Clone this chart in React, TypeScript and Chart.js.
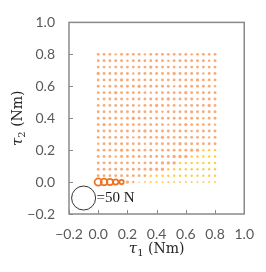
import React, { useEffect, useRef } from "react";
import { Chart, registerables } from "chart.js";
Chart.register(...registerables);

// τ1 grid values (Nm)
const tau1 = [0, 0.04, 0.08, 0.12, 0.16, 0.2, 0.24, 0.28, 0.32, 0.36, 0.4, 0.44, 0.48, 0.52, 0.56, 0.6, 0.64, 0.68, 0.72, 0.76, 0.8];
// τ2 grid values (Nm), top row first
const tau2Rows = [0.8, 0.76, 0.72, 0.68, 0.64, 0.6, 0.56, 0.52, 0.48, 0.44, 0.4, 0.36, 0.32, 0.28, 0.24, 0.2, 0.16, 0.12, 0.08, 0.04, 0];
// force magnitude (N) at each grid point, rows follow tau2Rows
const forceRows = [
  [6, 6, 6, 5, 6, 6, 6, 6, 5, 6, 6, 6, 6, 6, 6, 6, 5, 6, 6, 6, 6],
  [6, 6, 6, 6, 6, 5, 6, 6, 6, 6, 6, 6, 5, 6, 6, 6, 6, 6, 6, 5, 6],
  [6, 6, 5, 6, 6, 6, 6, 6, 6, 7, 6, 6, 6, 6, 5, 6, 6, 6, 6, 6, 6],
  [7, 6, 6, 6, 6, 6, 5, 6, 6, 6, 6, 6, 6, 7, 6, 6, 6, 6, 5, 6, 6],
  [6, 6, 6, 6, 7, 6, 6, 6, 6, 6, 5, 6, 6, 6, 6, 6, 6, 7, 6, 6, 6],
  [6, 5, 6, 6, 6, 6, 6, 7, 6, 6, 6, 6, 6, 5, 6, 6, 6, 6, 6, 6, 5],
  [6, 6, 6, 7, 6, 6, 6, 6, 6, 5, 6, 6, 6, 6, 6, 7, 6, 6, 6, 6, 6],
  [5, 6, 6, 6, 6, 5, 6, 6, 6, 6, 6, 6, 7, 6, 6, 6, 6, 5, 6, 6, 6],
  [6, 6, 6, 6, 6, 6, 6, 5, 6, 6, 7, 6, 6, 6, 5, 6, 6, 6, 6, 7, 6],
  [6, 6, 5, 6, 6, 6, 6, 6, 6, 6, 6, 5, 6, 6, 6, 6, 7, 6, 6, 6, 6],
  [6, 6, 6, 6, 5, 6, 7, 6, 6, 5, 6, 6, 6, 6, 6, 6, 6, 6, 5, 6, 6],
  [6, 7, 6, 6, 6, 6, 6, 6, 6, 6, 6, 6, 5, 6, 6, 7, 6, 6, 6, 6, 5],
  [6, 6, 6, 5, 6, 6, 6, 6, 7, 6, 6, 6, 6, 6, 6, 6, 5, 6, 6, 6, 6],
  [6, 6, 6, 6, 6, 6, 5, 6, 6, 6, 6, 7, 6, 6, 6, 6, 6, 6, 6, 5, 6],
  [5, 6, 6, 6, 6, 6, 6, 6, 5, 6, 6, 6, 6, 6, 7, 6, 6, 6, 6, 6, 6],
  [6, 6, 6, 6, 7, 6, 6, 6, 6, 6, 5, 6, 6, 6, 6, 6, 7, 7, 5, 5, 5],
  [6, 6, 6, 5, 6, 6, 6, 6, 6, 6, 6, 6, 6, 7, 7, 7, 5, 5, 5, 5, 5],
  [6, 6, 6, 6, 6, 6, 6, 5, 6, 6, 6, 7, 7, 7, 5, 5, 5, 5, 5, 5, 5],
  [6, 6, 6, 6, 6, 6, 6, 6, 6, 7, 7, 7, 5, 5, 5, 5, 5, 5, 5, 5, 5],
  [6, 6, 6, 6, 6, 6, 6, 6, 6, 5, 5, 5, 5, 5, 5, 5, 5, 5, 5, 5, 5],
  [15, 14, 13, 11, 9, 7, 5, 3, 4, 4, 4, 4, 4, 4, 4, 4, 4, 4, 4, 4, 4],
];
// first τ1 index of the second (yellow) group in each row
const yellowFrom = [21, 21, 21, 21, 21, 21, 21, 21, 21, 21, 21, 21, 21, 21, 21, 18, 16, 14, 12, 9, 8];
// reference bubble
const legendForce = 50;
const legendTau1 = -0.1;
const legendTau2 = -0.1;
const legendLabel = "=50 N";
const axisMin = -0.2;
const axisMax = 1.0;
const axisStep = 0.2;

const PX_PER_N = 12 / 50;
const RING_MIN_FORCE = 9;

function buildData() {
  const orange: any[] = [];
  const yellow: any[] = [];
  const rings: any[] = [];
  tau2Rows.forEach((t2, i) => {
    forceRows[i].forEach((f, j) => {
      const p = { x: tau1[j], y: t2, r: f * PX_PER_N };
      if (j >= yellowFrom[i]) yellow.push(p);
      else if (f >= RING_MIN_FORCE) rings.push(p);
      else orange.push(p);
    });
  });
  return { orange, yellow, rings };
}

const fmt = (v: number) => {
  const s = Math.abs(v).toFixed(1);
  return v < -1e-9 ? "\u2212" + s : s;
};

const decorPlugin = {
  id: "decor",
  afterDatasetsDraw(chart: any) {
    const { ctx, chartArea: a, scales } = chart;
    const xs = scales.x;
    const ys = scales.y;
    ctx.save();
    ctx.strokeStyle = "#8a8a8a";
    ctx.lineWidth = 1.5;
    ctx.strokeRect(a.left, a.top, a.right - a.left, a.bottom - a.top);
    ctx.lineWidth = 1;
    ctx.beginPath();
    for (let v = axisMin; v <= axisMax + 1e-9; v += axisStep) {
      const px = Math.round(xs.getPixelForValue(v)) + 0.5;
      ctx.moveTo(px, a.bottom);
      ctx.lineTo(px, a.bottom - 4);
      const py = Math.round(ys.getPixelForValue(v)) + 0.5;
      ctx.moveTo(a.left, py);
      ctx.lineTo(a.left + 4, py);
    }
    ctx.stroke();

    // legend label
    ctx.fillStyle = "#1a1a1a";
    ctx.font = "15px 'Liberation Serif'";
    ctx.textBaseline = "middle";
    ctx.textAlign = "left";
    const lx = xs.getPixelForValue(legendTau1) + legendForce * PX_PER_N + 1;
    const ly = ys.getPixelForValue(legendTau2);
    ctx.fillText(legendLabel, lx, ly);

    // axis titles
    const drawTitle = (sub: string) => {
      const tauFont = "italic 15px 'DejaVu Serif'";
      const subFont = "10px 'DejaVu Serif'";
      const restFont = "14px 'DejaVu Serif'";
      const rest = " (Nm)";
      ctx.font = tauFont;
      const w1 = ctx.measureText("\u03c4").width;
      ctx.font = subFont;
      const w2 = ctx.measureText(sub).width;
      ctx.font = restFont;
      const w3 = ctx.measureText(rest).width;
      const total = w1 + w2 + w3;
      let x0 = -total / 2;
      ctx.textAlign = "left";
      ctx.textBaseline = "alphabetic";
      ctx.font = tauFont;
      ctx.fillText("\u03c4", x0, 0);
      x0 += w1;
      ctx.font = subFont;
      ctx.fillText(sub, x0, 3);
      x0 += w2;
      ctx.font = restFont;
      ctx.fillText(rest, x0, 0);
    };
    ctx.fillStyle = "#262626";
    ctx.save();
    ctx.translate((a.left + a.right) / 2, 253);
    drawTitle("1");
    ctx.restore();
    ctx.save();
    ctx.translate(22, (a.top + a.bottom) / 2);
    ctx.rotate(-Math.PI / 2);
    drawTitle("2");
    ctx.restore();
    ctx.restore();
  },
};

export default function App() {
  const ref = useRef<HTMLCanvasElement | null>(null);
  useEffect(() => {
    const { orange, yellow, rings } = buildData();
    const legend = [{ x: legendTau1, y: legendTau2, r: legendForce * PX_PER_N }];
    const tickFont = { family: "Lato", size: 14 };
    const chart = new Chart(ref.current as HTMLCanvasElement, {
      type: "bubble",
      data: {
        datasets: [
          { data: orange, backgroundColor: "rgba(244,140,70,0.72)", borderWidth: 0 },
          { data: yellow, backgroundColor: "rgba(255,192,20,0.8)", borderWidth: 0 },
          { data: rings, backgroundColor: "rgba(255,255,255,0)", borderColor: "#ee7424", borderWidth: 1.8 },
          { data: legend, backgroundColor: "rgba(255,255,255,0)", borderColor: "#333333", borderWidth: 1 },
        ],
      },
      options: {
        animation: false,
        responsive: true,
        maintainAspectRatio: false,
        events: [],
        layout: { padding: { top: 15, right: 17, left: 0, bottom: 0 } },
        plugins: { legend: { display: false }, tooltip: { enabled: false } },
        scales: {
          x: {
            type: "linear",
            min: axisMin,
            max: axisMax,
            grid: { display: false, drawTicks: false },
            border: { display: false },
            afterFit: (s: any) => { s.height = 58; },
            ticks: {
              stepSize: axisStep,
              autoSkip: false,
              maxRotation: 0,
              padding: 12,
              color: "#595959",
              font: tickFont,
              callback: (v: any) => fmt(Number(v)),
            },
          },
          y: {
            type: "linear",
            min: axisMin,
            max: axisMax,
            grid: { display: false, drawTicks: false },
            border: { display: false },
            afterFit: (s: any) => { s.width = 69; },
            ticks: {
              stepSize: axisStep,
              autoSkip: false,
              padding: 14,
              color: "#595959",
              font: tickFont,
              callback: (v: any) => fmt(Number(v)),
            },
          },
        },
      },
      plugins: [decorPlugin],
    } as any);
    return () => chart.destroy();
  }, []);
  return (
    <div style={{ position: "fixed", left: 0, top: 0, width: 266, height: 272, background: "#fff" }}>
      <canvas ref={ref} />
    </div>
  );
}
